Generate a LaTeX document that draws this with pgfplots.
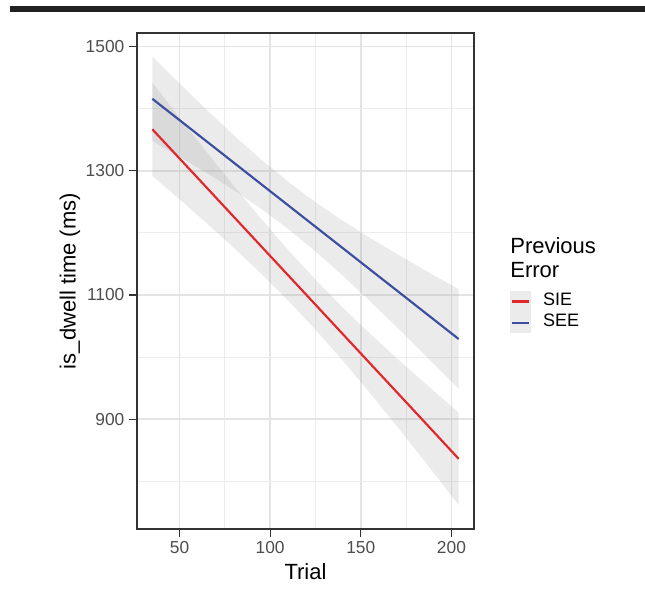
\documentclass[border=0pt]{standalone}
\usepackage{fontspec}
\setmainfont{Liberation Sans}
\usepackage{pgfplots}
\usepackage{pgfplotstable}
\pgfplotsset{compat=1.18}
\usepgfplotslibrary{fillbetween}
\definecolor{SIEred}{HTML}{E3252C}
\definecolor{SEEblue}{HTML}{3C4E9F}
\definecolor{GridGrey}{HTML}{E4E4E4}
\definecolor{GridMinor}{HTML}{ECECEC}
\definecolor{Border}{HTML}{333333}
\definecolor{TickText}{HTML}{4D4D4D}
\definecolor{KeyBg}{HTML}{EBEBEB}

% fitted line with 95% band, previous error = SIE
\pgfplotstableread{
x   fit     lo      hi
35  1367.0  1292.0  1442.0
50  1319.9  1254.1  1385.7
65  1272.9  1215.6  1330.2
80  1225.7  1175.8  1275.6
95  1178.6  1134.5  1222.7
110 1131.5  1090.8  1172.2
125 1084.4  1044.2  1124.6
140 1037.2  994.5   1079.9
155 990.1   942.3   1037.9
170 943.0   888.3   997.7
185 895.9   833.0   958.8
204 836.0   761.6   910.4
}\sietab

% previous error = SEE
\pgfplotstableread{
x   fit     lo      hi
35  1416.0  1348.0  1484.0
50  1381.7  1322.7  1440.7
65  1347.3  1296.4  1398.2
80  1313.0  1268.8  1357.2
95  1278.6  1239.0  1318.2
110 1244.3  1206.3  1282.3
125 1209.9  1170.3  1249.5
140 1175.6  1131.4  1219.8
155 1141.2  1090.3  1192.1
170 1106.9  1047.9  1165.9
185 1072.5  1004.5  1140.5
204 1029.0  948.8   1109.2
}\seetab

\begin{document}
\begin{tikzpicture}
\path (0,0) rectangle (483.75pt,447.75pt);
\fill[black!87] (7.5pt,438.95pt) rectangle (483.75pt,443.25pt);
\begin{axis}[
  at={(102.75pt,51pt)}, anchor=south west,
  scale only axis, width=252.75pt, height=372pt,
  xmin=26.55, xmax=212.45, ymin=723, ymax=1522,
  xtick={50,100,150,200}, minor xtick={75,125,175},
  ytick={900,1100,1300,1500}, minor ytick={800,1000,1200,1400},
  grid=both,
  major grid style={draw=GridGrey, line width=1.2pt},
  minor grid style={draw=GridMinor, line width=0.7pt},
  axis line style={draw=Border, line width=0.8pt},
  tick align=outside, major tick length=6pt, minor tick length=0pt,
  tick style={draw=Border, line width=0.8pt},
  xtick pos=bottom, ytick pos=left,
  tick label style={font=\fontsize{13}{15}\selectfont, text=TickText},
  /pgf/number format/assume math mode=true,
  /pgf/number format/1000 sep={},
  xlabel={Trial}, ylabel={is\_dwell time (ms)},
  label style={font=\fontsize{16.5}{18}\selectfont},
  xlabel style={at={(axis description cs:0.5,-0.086)}, anchor=center},
  ylabel style={at={(axis description cs:-0.199,0.5)}, anchor=center},
  clip=false,
  legend style={at={(axis description cs:1.107,0.480)}, anchor=north west,
    draw=none, fill=none, inner sep=0pt, outer sep=0pt, row sep=0pt,
    column sep=9pt,
    font=\fontsize{13.5}{15}\selectfont,
    nodes={inner sep=0pt, text height=10pt, text depth=4.3pt}},
  legend cell align=left,
  legend image code/.code={
    \fill[KeyBg] (0pt,-7.15pt) rectangle (14.25pt,7.15pt);
    \draw[#1] (0.8pt,0pt) -- (13.45pt,0pt);
  },
]
\addplot[name path=sieHi, draw=none, forget plot] table[x=x,y=hi]{\sietab};
\addplot[name path=sieLo, draw=none, forget plot] table[x=x,y=lo]{\sietab};
\addplot[fill=black!40, fill opacity=0.2, draw=none, forget plot] fill between[of=sieHi and sieLo];
\addplot[name path=seeHi, draw=none, forget plot] table[x=x,y=hi]{\seetab};
\addplot[name path=seeLo, draw=none, forget plot] table[x=x,y=lo]{\seetab};
\addplot[fill=black!40, fill opacity=0.2, draw=none, forget plot] fill between[of=seeHi and seeLo];
\addplot[SIEred, line width=1.6pt] table[x=x,y=fit]{\sietab};
\addlegendentry{SIE}
\addplot[SEEblue, line width=1.6pt] table[x=x,y=fit]{\seetab};
\addlegendentry{SEE}
\node[anchor=north west, align=left, inner sep=0pt, font=\fontsize{16.5}{18}\selectfont]
  at (axis description cs:1.107,0.589) {Previous\\Error};
\end{axis}
\end{tikzpicture}
\end{document}
